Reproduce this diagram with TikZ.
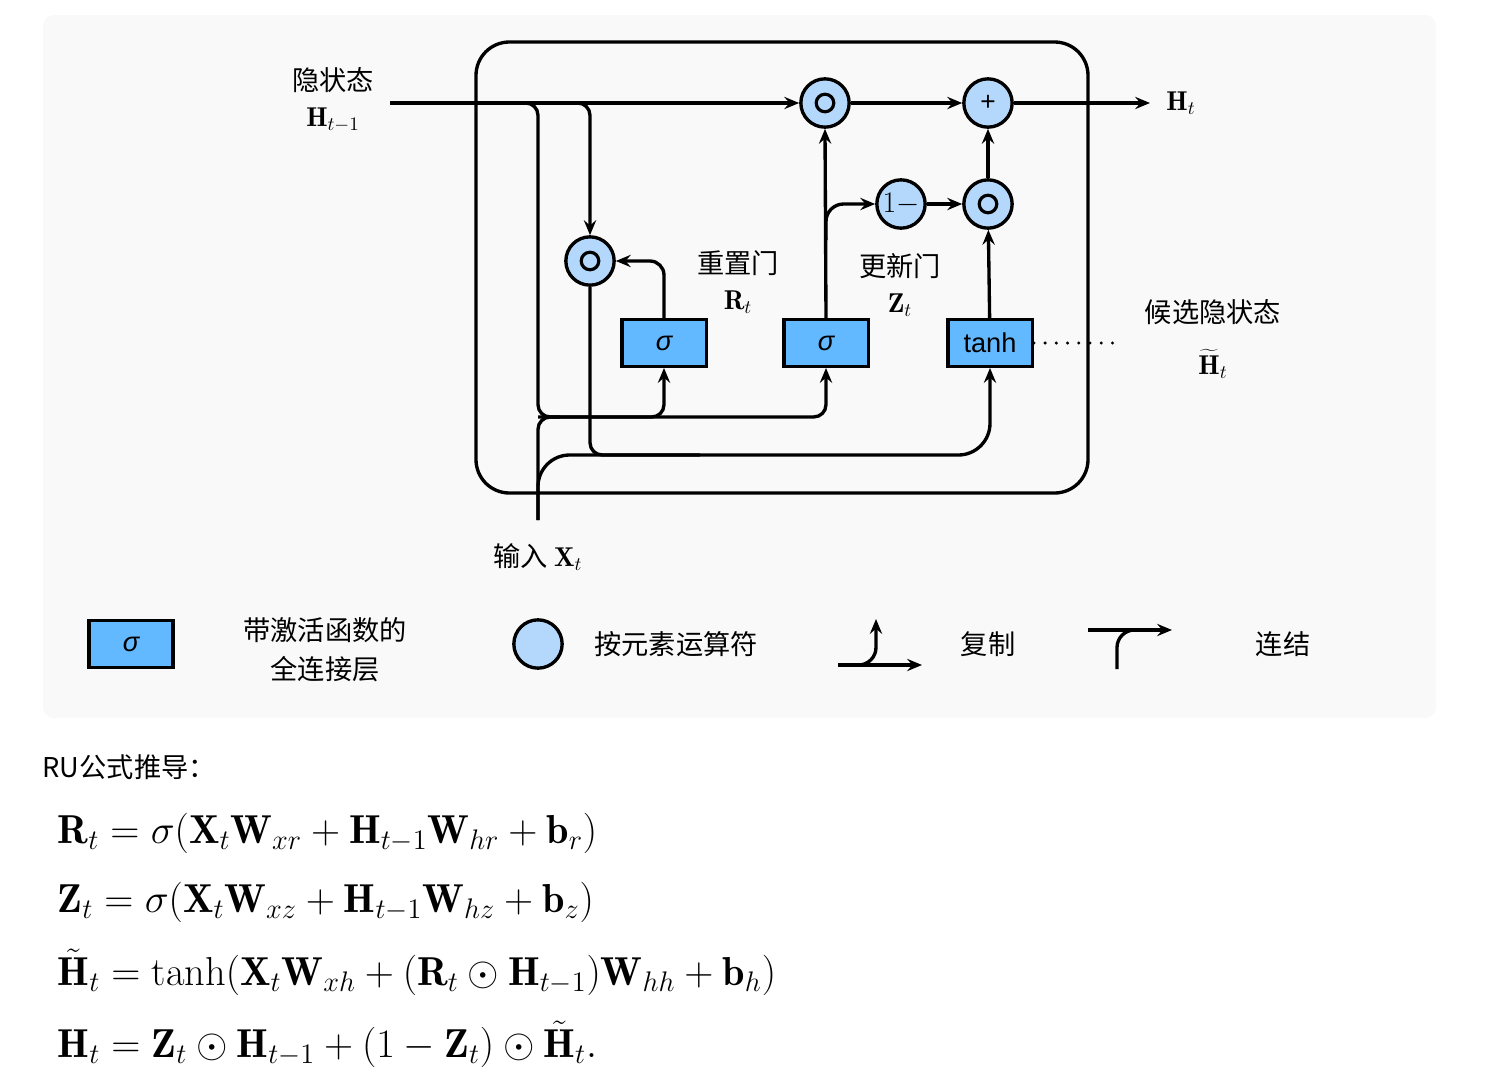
\RequirePackage{fix-cm}
\documentclass[tikz,border=0pt]{standalone}
\usepackage{fontspec}
\usetikzlibrary{arrows.meta}
\newfontfamily\cjk{Noto Sans CJK SC}
\newfontfamily\arial{Liberation Sans}
\definecolor{panelgray}{RGB}{249,249,249}
\definecolor{gateblue}{RGB}{99,185,255}
\definecolor{opblue}{RGB}{180,216,252}
\begin{document}
\begin{tikzpicture}[x=0.02cm, y=-0.02cm, line width=1.9pt,
  font={\cjk\fontsize{15.5pt}{19pt}\selectfont},
  >={Stealth[length=8.5pt,width=7pt,inset=3pt]},
  op/.style={circle, draw, fill=opblue, minimum size=27.5pt, inner sep=0pt},
  odot/.style={path picture={
      \draw[line width=1.8pt] (path picture bounding box.center) circle (5pt);
      \fill (path picture bounding box.center) circle (2.2pt);}},
  gate/.style={draw, fill=gateblue, minimum width=48pt, minimum height=26.5pt,
    inner sep=0pt, font={\arial\fontsize{15.5pt}{18pt}\selectfont}},
  eqn/.style={anchor=west, inner sep=0pt, font=\fontsize{23pt}{27pt}\selectfont}]
  \useasboundingbox (0,0) rectangle (1492,1082);
  % grauer hintergrund
  \fill[panelgray, rounded corners=6pt] (43,15) rectangle (1436,718);
  % zelle
  \draw[rounded corners=19pt] (476,42) rectangle (1088,493);
  % operatoren und gates
  \node[op, odot] (mulz) at (825,103) {};
  \node[op, font={\arial\fontsize{15pt}{17pt}\selectfont}] (add) at (988,103) {+};
  \node[op, font=\fontsize{17pt}{19pt}\selectfont] (oneminus) at (901,204) {$1-$};
  \node[op, odot] (mulh) at (988,204) {};
  \node[op, odot] (mulr) at (590,261) {};
  \node[gate] (sigr) at (664,343) {\itshape σ};
  \node[gate] (sigz) at (826,343) {\itshape σ};
  \node[gate] (tanh) at (990,343) {tanh};
  % beschriftungen
  \node (hprevtxt) at (333,80) {隐状态};
  \node (hprev) at (333,120) {$\mathbf{H}_{t-1}$};
  \node (ht) at (1181,103) {$\mathbf{H}_t$};
  \node (rname) at (738,263) {重置门};
  \node (rsym) at (738,302) {$\mathbf{R}_t$};
  \node (zname) at (900,266) {更新门};
  \node (zsym) at (900,305) {$\mathbf{Z}_t$};
  \node (cname) at (1213,312) {候选隐状态};
  \node (csym) at (1213,364) {$\widetilde{\mathbf{H}}_t$};
  \node (xname) at (538,557) {输入 $\mathbf{X}_t$};
  \coordinate (hin) at (390,103);
  \coordinate (hout) at (1150,103);
  \coordinate (xin) at (538,520);
  % verbindungen
  \draw[->] (hin) -- (mulz.west);
  \draw[->] (mulz.east) -- (add.west);
  \draw[->] (add.east) -- (hout);
  \draw[->, rounded corners=7pt] (515,103) -| (538,417) -| (sigr.south);
  \draw[->, rounded corners=7pt] (538,417) -| (sigz.south);
  \draw[rounded corners=7pt] (xin) -- (538,417) -- (560,417);
  \draw[->, rounded corners=18pt] (xin) |- (700,455) -| (tanh.south);
  \draw[->, rounded corners=7pt] (560,103) -| (mulr.north);
  \draw[rounded corners=7pt] (mulr.south) |- (700,455);
  \draw[->, rounded corners=8pt] (sigr.north) |- (mulr.east);
  \draw[->] (sigz.north) -- (mulz.south);
  \draw[->, rounded corners=10pt] (826,240) |- (oneminus.west);
  \draw[->] (oneminus) -- (mulh);
  \draw[->] (tanh) -- (mulh);
  \draw[->] (mulh) -- (add);
  \draw[line cap=round, dash pattern=on 0pt off 6.4pt] (tanh.east) -- (1115,343);
  % legende
  \node[gate] (leggate) at (131,644) {\itshape σ};
  \node[align=center] (leggatetxt) at (325,650) {带激活函数的\\[3pt]全连接层};
  \node[op] (legop) at (538,644) {};
  \node (legoptxt) at (676,644) {按元素运算符};
  \coordinate (cpa) at (838,665);
  \coordinate (cpb) at (922,665);
  \coordinate (cpc) at (876,619);
  \draw[->] (cpa) -- (cpb);
  \draw[->, rounded corners=10pt] (852,665) -| (cpc);
  \node (copytxt) at (988,644) {复制};
  \coordinate (cta) at (1088,630);
  \coordinate (ctb) at (1172,630);
  \coordinate (ctc) at (1117,669);
  \draw[->] (cta) -- (ctb);
  \draw[rounded corners=10pt] (ctc) |- (1145,630);
  \node (cattxt) at (1283,644) {连结};
  % formeln
  \node[anchor=west, inner sep=0pt] (rutitle) at (41,767) {RU公式推导：};
  \node[eqn] (eqr) at (56,833)
    {$\mathbf{R}_t = \sigma(\mathbf{X}_t\mathbf{W}_{xr} + \mathbf{H}_{t-1}\mathbf{W}_{hr} + \mathbf{b}_r)$};
  \node[eqn] (eqz) at (56,902)
    {$\mathbf{Z}_t = \sigma(\mathbf{X}_t\mathbf{W}_{xz} + \mathbf{H}_{t-1}\mathbf{W}_{hz} + \mathbf{b}_z)$};
  \node[eqn] (eqh) at (56,972)
    {$\tilde{\mathbf{H}}_t = \tanh(\mathbf{X}_t\mathbf{W}_{xh} + (\mathbf{R}_t \odot \mathbf{H}_{t-1})\mathbf{W}_{hh} + \mathbf{b}_h)$};
  \node[eqn] (eqo) at (56,1044)
    {$\mathbf{H}_t = \mathbf{Z}_t \odot \mathbf{H}_{t-1} + (1 - \mathbf{Z}_t) \odot \tilde{\mathbf{H}}_t.$};
\end{tikzpicture}
\end{document}
